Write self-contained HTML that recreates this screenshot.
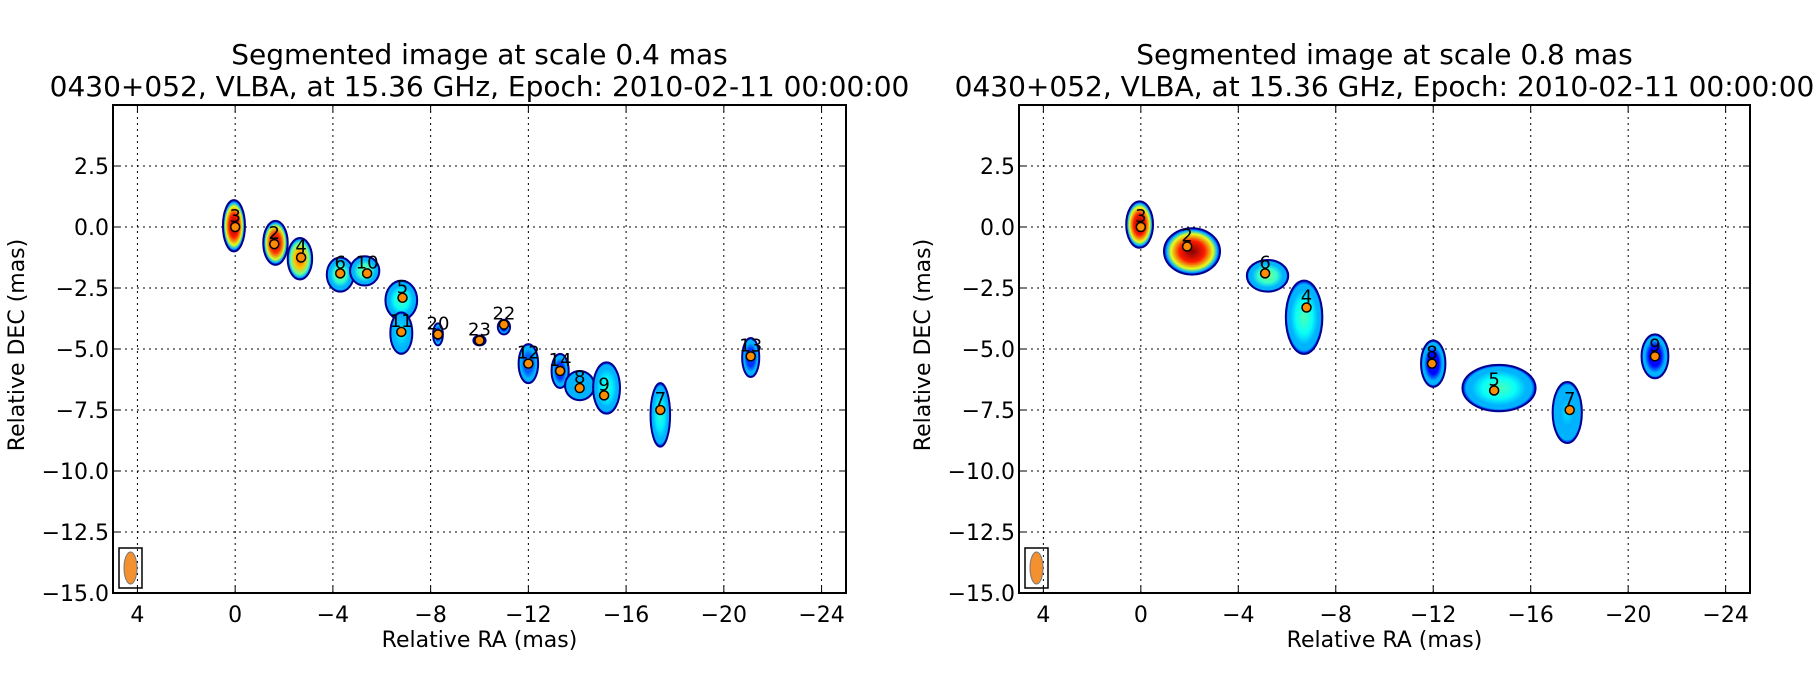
<!DOCTYPE html>
<html><head><meta charset="utf-8"><style>
body{margin:0;background:#fff;}
svg{display:block;font-family:"DejaVu Sans","Liberation Sans",sans-serif;}
</style></head><body>
<svg id="fig" width="1820" height="700" viewBox="0 0 1820 700" xmlns="http://www.w3.org/2000/svg">
<defs id="defs"></defs>
</svg>
<script>
// Left panel data (scale 0.4 mas)
const leftLabels=["3","2","4","6","10","5","11","20","23","22","12","14","8","9","7","13"];
const leftRA=[0,-1.6,-2.7,-4.3,-5.4,-6.85,-6.8,-8.3,-10,-11,-12,-13.3,-14.1,-15.1,-17.4,-21.1];
const leftDEC=[0,-0.7,-1.25,-1.9,-1.9,-2.9,-4.3,-4.4,-4.65,-4.0,-5.6,-5.9,-6.6,-6.9,-7.5,-5.3];
const leftBlobRA=[0.05,-1.65,-2.65,-4.3,-5.3,-6.8,-6.8,-8.3,-10,-11,-12,-13.3,-14.1,-15.2,-17.4,-21.1];
const leftBlobDEC=[0.05,-0.65,-1.3,-1.95,-1.8,-3.0,-4.35,-4.4,-4.65,-4.1,-5.6,-5.9,-6.5,-6.6,-7.7,-5.35];
const leftRX=[0.45,0.5,0.5,0.55,0.6,0.65,0.45,0.2,0.25,0.25,0.4,0.35,0.6,0.55,0.4,0.35];
const leftRY=[1.05,0.9,0.85,0.7,0.6,0.8,0.85,0.45,0.2,0.3,0.8,0.7,0.6,1.05,1.3,0.8];
const leftHeat=[1,0.97,0.8,0.5,0.5,0.45,0.38,0.15,0.15,0.15,0.25,0.2,0.35,0.42,0.42,0.2];
// Right panel data (scale 0.8 mas)
const rightLabels=["3","2","6","4","8","5","7","9"];
const rightRA=[0,-1.9,-5.1,-6.8,-11.95,-14.5,-17.6,-21.1];
const rightDEC=[0,-0.8,-1.9,-3.3,-5.6,-6.7,-7.5,-5.3];
const rightBlobRA=[0.05,-2.1,-5.2,-6.7,-12,-14.7,-17.5,-21.1];
const rightBlobDEC=[0.1,-1.0,-2.0,-3.7,-5.6,-6.6,-7.6,-5.3];
const rightRX=[0.55,1.15,0.85,0.75,0.5,1.5,0.6,0.55];
const rightRY=[0.95,0.95,0.65,1.5,0.95,0.95,1.25,0.9];
const rightHeat=[1,1,0.5,0.45,0.15,0.45,0.35,0.15];
const xTicks=[4,0,-4,-8,-12,-16,-20,-24];
const yTicks=[2.5,0,-2.5,-5,-7.5,-10,-12.5,-15];
const xTickLabels=["4","0","\u22124","\u22128","\u221212","\u221216","\u221220","\u221224"];
const yTickLabels=["2.5","0.0","\u22122.5","\u22125.0","\u22127.5","\u221210.0","\u221212.5","\u221215.0"];

const NS="http://www.w3.org/2000/svg";
const svg=document.getElementById('fig');
const defs=document.getElementById('defs');
function mk(tag,attrs,parent){const e=document.createElementNS(NS,tag);for(const k in attrs)e.setAttribute(k,attrs[k]);(parent||svg).appendChild(e);return e;}
function jet(v){v=Math.max(0,Math.min(1,v));
 const r=Math.max(0,Math.min(1,1.5-Math.abs(4*v-3))),g=Math.max(0,Math.min(1,1.5-Math.abs(4*v-2))),b=Math.max(0,Math.min(1,1.5-Math.abs(4*v-1)));
 return `rgb(${Math.round(r*255)},${Math.round(g*255)},${Math.round(b*255)})`;}
let gid=0;
function panel(x0,x1,y0,y1,title,labels,ra,dec,bra,bdec,rx,ry,heat,name){
 const xmin=5,xmax=-25,ymin=-15,ymax=5;
 const X=v=>x0+(xmin-v)/(xmin-xmax)*(x1-x0);
 const Y=v=>y0+(ymax-v)/(ymax-ymin)*(y1-y0);
 const sx=(x1-x0)/30, sy=(y1-y0)/20;
 const g=mk('g',{});
 
 
 const cx=(x0+x1)/2;
 const t1=mk('text',{x:cx,y:64,'font-size':28,'text-anchor':'middle'},g);t1.textContent=title;
 
 const t2=mk('text',{x:cx,y:96,'font-size':28,'text-anchor':'middle'},g);t2.textContent="0430+052, VLBA, at 15.36 GHz, Epoch: 2010-02-11 00:00:00";
 
 xTicks.forEach((v,i)=>{const px=X(v);
  const l=mk('line',{x1:px,x2:px,y1:y0,y2:y1,stroke:'#000','stroke-width':1,'stroke-dasharray':'2,4'},g);
  
  mk('line',{x1:px,x2:px,y1:y1,y2:y1-7,stroke:'#000'},g);mk('line',{x1:px,x2:px,y1:y0,y2:y0+7,stroke:'#000'},g);
  const t=mk('text',{x:px,y:y1+29,'font-size':22,'text-anchor':'middle'},g);t.textContent=xTickLabels[i];
  });
 yTicks.forEach((v,i)=>{const py=Y(v);
  const l=mk('line',{x1:x0,x2:x1,y1:py,y2:py,stroke:'#000','stroke-width':1,'stroke-dasharray':'2,4'},g);
  
  mk('line',{x1:x0,x2:x0+7,y1:py,y2:py,stroke:'#000'},g);mk('line',{x1:x1,x2:x1-7,y1:py,y2:py,stroke:'#000'},g);
  const t=mk('text',{x:x0-4,y:py+8,'font-size':22,'text-anchor':'end'},g);t.textContent=yTickLabels[i];
  });
 bra.forEach((v,i)=>{const id='gr'+(gid++);
  const rg=mk('radialGradient',{id:id},defs);
  const h=heat[i];
  [[0,h],[0.45,h*0.85],[0.75,Math.max(0.3,h*0.6)],[0.9,0.3],[1,0.12]].forEach(s=>mk('stop',{offset:s[0],'stop-color':jet(s[1])},rg));
  const e=mk('ellipse',{cx:X(v),cy:Y(bdec[i]),rx:rx[i]*sx,ry:ry[i]*sy,fill:`url(#${id})`,stroke:'#00008f','stroke-width':2},g);
  });
 ra.forEach((v,i)=>{
  const c=mk('circle',{cx:X(v),cy:Y(dec[i]),r:4.5,fill:'#ff8c00',stroke:'#000','stroke-width':1.5},g);
  
  const t=mk('text',{x:X(v),y:Y(dec[i])-5,'font-size':18,'text-anchor':'middle'},g);t.textContent=labels[i];
  });
 const bx=mk('rect',{x:x0+6,y:548,width:23,height:40,fill:'none',stroke:'#000','stroke-width':1.5},g);
 
 const be=mk('ellipse',{cx:x0+17.5,cy:568,rx:6.5,ry:16,fill:'#f39030',stroke:'#777','stroke-width':1},g);
 
 const fr=mk('rect',{x:x0,y:y0,width:x1-x0,height:y1-y0,fill:'none',stroke:'#000','stroke-width':2},g);
 
 const xl=mk('text',{x:cx,y:647,'font-size':22,'text-anchor':'middle'},g);xl.textContent="Relative RA (mas)";
 
 const yx=x0-97, yy=345;
 const yl=mk('text',{x:yx,y:yy+8,'font-size':22,'text-anchor':'middle',transform:`rotate(-90 ${yx} ${yy})`},g);yl.textContent="Relative DEC (mas)";
 
}
panel(113,846,105,593,"Segmented image at scale 0.4 mas",leftLabels,leftRA,leftDEC,leftBlobRA,leftBlobDEC,leftRX,leftRY,leftHeat,'left-panel');
panel(1019,1750,105,593,"Segmented image at scale 0.8 mas",rightLabels,rightRA,rightDEC,rightBlobRA,rightBlobDEC,rightRX,rightRY,rightHeat,'right-panel');
</script>
</body></html>
